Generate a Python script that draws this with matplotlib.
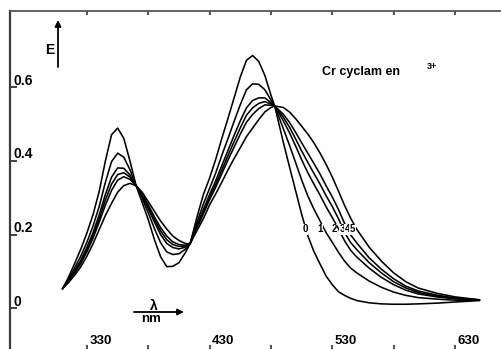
import matplotlib
matplotlib.use("Agg")
import matplotlib.pyplot as plt
from matplotlib.transforms import blended_transform_factory

plt.rcParams['font.family'] = ['Liberation Sans', 'DejaVu Sans']

# ---------------- data ----------------
wavelength = [310, 315, 320, 325, 330, 335, 340, 345, 350, 355, 360, 365, 370, 375, 380,
              385, 390, 395, 400, 405, 410, 414, 420, 425, 430, 435, 440, 445, 450, 455,
              460, 465, 470, 475, 480, 483, 490, 495, 500, 505, 510, 515, 520, 525, 530,
              535, 540, 545, 550, 560, 570, 580, 590, 600, 615, 630, 650]

curve_0 = [0.052, 0.085, 0.122, 0.161, 0.205, 0.255, 0.318, 0.400, 0.471, 0.489, 0.461, 0.400,
           0.333, 0.287, 0.240, 0.186, 0.140, 0.113, 0.114, 0.124, 0.150, 0.175, 0.252, 0.310,
           0.354, 0.405, 0.462, 0.516, 0.572, 0.628, 0.673, 0.686, 0.670, 0.632, 0.578, 0.549,
           0.451, 0.385, 0.320, 0.255, 0.197, 0.154, 0.120, 0.087, 0.064, 0.045, 0.035, 0.027,
           0.021, 0.015, 0.012, 0.011, 0.011, 0.012, 0.014, 0.017, 0.021]
curve_1 = [0.053, 0.079, 0.110, 0.142, 0.180, 0.224, 0.277, 0.342, 0.398, 0.421, 0.410, 0.376,
           0.333, 0.298, 0.259, 0.216, 0.178, 0.153, 0.146, 0.148, 0.160, 0.175, 0.237, 0.284,
           0.326, 0.368, 0.416, 0.461, 0.508, 0.553, 0.593, 0.609, 0.608, 0.593, 0.565, 0.549,
           0.488, 0.443, 0.396, 0.348, 0.305, 0.269, 0.237, 0.205, 0.179, 0.152, 0.128, 0.109,
           0.096, 0.074, 0.057, 0.044, 0.035, 0.029, 0.025, 0.022, 0.022]
curve_2 = [0.053, 0.076, 0.102, 0.131, 0.166, 0.206, 0.254, 0.309, 0.356, 0.381, 0.380, 0.362,
           0.333, 0.304, 0.270, 0.234, 0.200, 0.176, 0.165, 0.161, 0.166, 0.175, 0.228, 0.269,
           0.309, 0.347, 0.388, 0.429, 0.470, 0.509, 0.544, 0.564, 0.571, 0.571, 0.558, 0.549,
           0.509, 0.477, 0.441, 0.403, 0.368, 0.337, 0.307, 0.275, 0.246, 0.216, 0.183, 0.157,
           0.139, 0.109, 0.084, 0.064, 0.049, 0.039, 0.031, 0.026, 0.022]
curve_3 = [0.053, 0.074, 0.099, 0.126, 0.160, 0.198, 0.243, 0.294, 0.337, 0.363, 0.368, 0.356,
           0.333, 0.307, 0.275, 0.241, 0.210, 0.186, 0.173, 0.168, 0.169, 0.175, 0.224, 0.262,
           0.301, 0.337, 0.376, 0.415, 0.453, 0.490, 0.524, 0.544, 0.556, 0.561, 0.554, 0.549,
           0.519, 0.492, 0.460, 0.427, 0.396, 0.366, 0.337, 0.305, 0.276, 0.243, 0.206, 0.178,
           0.159, 0.124, 0.096, 0.072, 0.055, 0.043, 0.033, 0.027, 0.022]
curve_4 = [0.054, 0.073, 0.096, 0.122, 0.154, 0.191, 0.234, 0.280, 0.320, 0.348, 0.357, 0.350,
           0.333, 0.310, 0.280, 0.248, 0.219, 0.196, 0.180, 0.173, 0.171, 0.175, 0.220, 0.257,
           0.295, 0.329, 0.366, 0.403, 0.438, 0.473, 0.505, 0.526, 0.542, 0.552, 0.551, 0.549,
           0.527, 0.505, 0.478, 0.449, 0.421, 0.393, 0.364, 0.332, 0.302, 0.268, 0.230, 0.199,
           0.177, 0.137, 0.106, 0.080, 0.060, 0.047, 0.036, 0.028, 0.023]
curve_5 = [0.054, 0.070, 0.090, 0.113, 0.142, 0.176, 0.214, 0.252, 0.285, 0.315, 0.333, 0.339,
           0.333, 0.315, 0.289, 0.263, 0.237, 0.215, 0.196, 0.184, 0.176, 0.175, 0.213, 0.244,
           0.281, 0.311, 0.343, 0.376, 0.407, 0.436, 0.466, 0.489, 0.512, 0.533, 0.545, 0.549,
           0.545, 0.533, 0.515, 0.494, 0.473, 0.449, 0.421, 0.390, 0.356, 0.318, 0.279, 0.244,
           0.214, 0.166, 0.128, 0.096, 0.072, 0.055, 0.041, 0.031, 0.023]

curves = [curve_0, curve_1, curve_2, curve_3, curve_4, curve_5]
curve_labels = ["0", "1", "2", "3", "4", "5"]

xticks = [330, 380, 430, 480, 530, 580, 630]
xtick_label_pos = [330, 430, 530, 630]
xtick_labels = ["330", "430", "530", "630"]
yticks = [0.0, 0.2, 0.4, 0.6]
ytick_labels = ["0", "0.2", "0.4", "0.6"]
title_main = "Cr cyclam en"
title_sup = "3+"

# ---------------- figure ----------------
W, H = 501, 349
fig = plt.figure(figsize=(W / 100, H / 100), dpi=100)
ax = fig.add_axes([10 / W, 0, 490 / W, 338 / H])

PX_PER_NM = 1.22667
PX_PER_E = 368.5
ax.set_xlim(330 - 77 / PX_PER_NM, 330 + 413 / PX_PER_NM)
ax.set_ylim(-40.7 / PX_PER_E, 297.3 / PX_PER_E)


def fx(px):
    return px / W


def fy(py):
    return 1 - py / H


for vals in curves:
    ax.plot(wavelength, vals, color='black', lw=1.15, solid_joinstyle='round',
            solid_capstyle='round')

# spines
ax.spines['right'].set_visible(False)
ax.spines['bottom'].set_visible(False)
ax.spines['left'].set_color('#3a3a3a')
ax.spines['left'].set_linewidth(1.6)
ax.spines['top'].set_color('#555555')
ax.spines['top'].set_linewidth(1.3)

ax.set_xticks(xticks)
ax.tick_params(axis='x', which='major', top=True, bottom=True, direction='in',
               length=3, width=1.2, color='#333333', labelbottom=False, labeltop=False)
ax.set_yticks(yticks)
ax.tick_params(axis='y', which='major', left=True, right=False, direction='in',
               length=5, width=1.3, color='#333333', labelleft=False)

# y tick labels (inside, above each tick)
ty = blended_transform_factory(ax.transAxes, ax.transData)
for v, lab in zip(yticks, ytick_labels):
    ax.text(3 / 490, v + 2.5 / PX_PER_E, lab, transform=ty, ha='left', va='baseline',
            fontsize=10, fontweight='bold')

# bottom x labels
tx = blended_transform_factory(ax.transData, ax.transAxes)
for p, lab in zip(xtick_label_pos, xtick_labels):
    ax.text(p + 2.5 / PX_PER_NM, 1.5 / 338, lab, transform=tx, ha='left', va='bottom',
            fontsize=9.5, fontweight='bold')

# curve numbers
label_lam = [507.7, 519.9, 531.4, 538.3, 542.3, 546.3]
for lam, lab in zip(label_lam, curve_labels):
    ax.text(lam, 0.215, lab, ha='center', va='center', fontsize=7, fontweight='bold',
            bbox=dict(boxstyle='square,pad=0.05', fc='white', ec='none'), zorder=5)

# title
fig.text(fx(322), fy(75), title_main, fontsize=9, fontweight='bold', va='baseline', ha='left')
fig.text(fx(427), fy(69), title_sup, fontsize=6.5, fontweight='bold', va='baseline', ha='left')

# E arrow
fig.text(fx(45), fy(54), 'E', fontsize=10, fontweight='bold', va='baseline', ha='left')
ax.annotate('', xy=(fx(58), fy(20)), xytext=(fx(58), fy(67)), xycoords='figure fraction',
            textcoords='figure fraction',
            arrowprops=dict(arrowstyle='-|>', color='black', lw=1.3, mutation_scale=9,
                            shrinkA=0, shrinkB=0))

# lambda arrow
ax.annotate('', xy=(fx(184), fy(312)), xytext=(fx(134), fy(312)), xycoords='figure fraction',
            textcoords='figure fraction',
            arrowprops=dict(arrowstyle='-|>', color='black', lw=1.3, mutation_scale=9,
                            shrinkA=0, shrinkB=0))
fig.text(fx(153.5), fy(310), 'λ', fontsize=10, fontweight='bold', va='baseline', ha='center')
fig.text(fx(151), fy(313.5), 'nm', fontsize=9.5, fontweight='bold', va='top', ha='center')

fig.savefig('out.png', dpi=100)
